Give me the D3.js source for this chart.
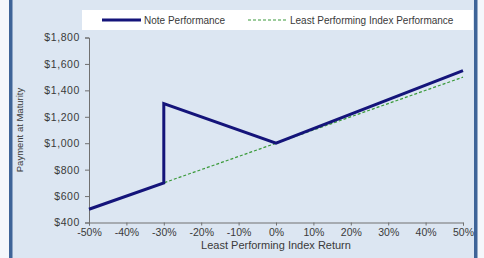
<!DOCTYPE html>
<html>
<head>
<meta charset="utf-8">
<script src="https://cdn.jsdelivr.net/npm/d3@7"></script>
<style>
  body { margin: 0; background: #f4f7fb; }
  text { font-family: "Liberation Sans", Arial, sans-serif; fill: #3a3a3a; }
</style>
</head>
<body>
<div id="chart"></div>
<script>
const width = 484;
const height = 258;

// Note payoff
const noteReturns = [-50, -30, -30, 0, 50];
const notePayments = [500, 700, 1300, 1000, 1550];

// Least performing index
const indexReturns = [-50, 50];
const indexPayments = [500, 1500];

const xTicks = [-50, -40, -30, -20, -10, 0, 10, 20, 30, 40, 50];
const yTicks = [400, 600, 800, 1000, 1200, 1400, 1600, 1800];

const svg = d3.select("#chart")
  .append("svg")
  .attr("width", width)
  .attr("height", height);

// panel background + side borders
svg.append("rect")
  .attr("x", 11).attr("y", 0)
  .attr("width", 465).attr("height", height)
  .attr("fill", "#dce6f2");
svg.append("rect").attr("x", 9).attr("y", 0).attr("width", 3.5).attr("height", height).attr("fill", "#3e6498");
svg.append("rect").attr("x", 474).attr("y", 0).attr("width", 3.5).attr("height", height).attr("fill", "#3e6498");

const x = d3.scaleLinear().domain([-50, 50]).range([89, 463]);
const y = d3.scaleLinear().domain([400, 1800]).range([222.5, 37.5]);

// y axis
const yAxis = svg.append("g")
  .attr("transform", "translate(89,0)")
  .call(d3.axisLeft(y).tickValues(yTicks).tickSize(4).tickPadding(5)
    .tickFormat(d => "$" + d3.format(",")(d)));
yAxis.select(".domain").attr("stroke", "#707070");
yAxis.selectAll(".tick line").attr("stroke", "#707070");
yAxis.selectAll("text").style("font-size", "10.5px").style("letter-spacing", "0.6px")
  .attr("fill", "#3a3a3a").style("font-family", "'Liberation Sans', Arial, sans-serif");

// x axis
const xAxis = svg.append("g")
  .attr("transform", "translate(0,222.5)")
  .call(d3.axisBottom(x).tickValues(xTicks).tickSize(3).tickPadding(3)
    .tickFormat(d => d + "%"));
xAxis.select(".domain").attr("stroke", "#707070");
xAxis.selectAll(".tick line").attr("stroke", "#707070");
xAxis.selectAll("text").style("font-size", "10.5px")
  .attr("fill", "#3a3a3a").style("font-family", "'Liberation Sans', Arial, sans-serif");

// axis titles
svg.append("text")
  .attr("x", 276).attr("y", 249)
  .attr("text-anchor", "middle")
  .style("font-size", "11px")
  .text("Least Performing Index Return");

svg.append("text")
  .attr("transform", "translate(23,130) rotate(-90)")
  .attr("text-anchor", "middle")
  .style("font-size", "9.5px")
  .text("Payment at Maturity");

const line = d3.line().x(d => x(d[0])).y(d => y(d[1]));

// index line (dashed green)
svg.append("path")
  .datum(d3.zip(indexReturns, indexPayments))
  .attr("d", line)
  .attr("fill", "none")
  .attr("stroke", "#3a9a3a")
  .attr("stroke-width", 1.2)
  .attr("stroke-dasharray", "3,2");

// note line (navy)
svg.append("path")
  .datum(d3.zip(noteReturns, notePayments))
  .attr("d", line)
  .attr("fill", "none")
  .attr("stroke", "#14147a")
  .attr("stroke-width", 3)
  .attr("stroke-linejoin", "miter");

// legend
const legend = svg.append("g");
legend.append("rect")
  .attr("x", 82).attr("y", 10)
  .attr("width", 391).attr("height", 20)
  .attr("fill", "#ffffff");
legend.append("line")
  .attr("x1", 102).attr("x2", 141).attr("y1", 20).attr("y2", 20)
  .attr("stroke", "#14147a").attr("stroke-width", 3);
legend.append("text")
  .attr("x", 144).attr("y", 23.5)
  .style("font-size", "10px")
  .text("Note Performance");
legend.append("line")
  .attr("x1", 248).attr("x2", 286).attr("y1", 20).attr("y2", 20)
  .attr("stroke", "#3a9a3a").attr("stroke-width", 1.2)
  .attr("stroke-dasharray", "3,2");
legend.append("text")
  .attr("x", 290).attr("y", 23.5)
  .style("font-size", "10px")
  .text("Least Performing Index Performance");
</script>
</body>
</html>
